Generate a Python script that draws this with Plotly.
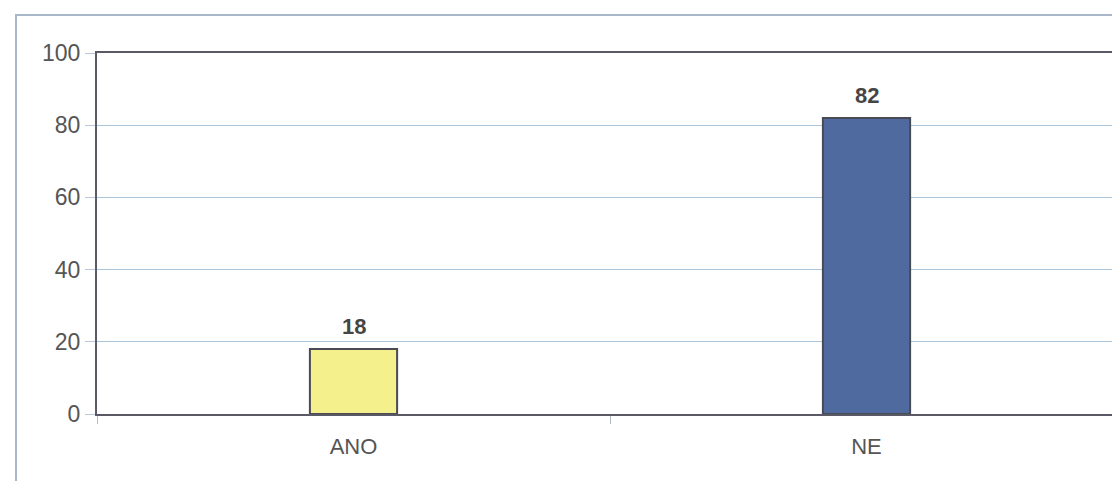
import plotly.graph_objects as go

# Survey answers (percent)
categories = ["ANO", "NE"]
values = [18, 82]
bar_colors = ["#f4f08c", "#4f6a9e"]
y_ticks = [0, 20, 40, 60, 80, 100]

W, H = 1112, 481
L, R, T, B = 97, 0, 53, 67
plot_w = W - L - R
plot_h = H - T - B
band = 513  # pixel width of one category slot

fig = go.Figure(
    go.Bar(
        x=categories,
        y=values,
        width=0.17,
        marker=dict(color=bar_colors, line=dict(color="#4a4a55", width=2)),
        cliponaxis=False,
    )
)

# value labels above each bar
for cat, val in zip(categories, values):
    fig.add_annotation(
        x=cat, y=val, text=f"<b>{val}</b>", showarrow=False,
        yanchor="bottom", yshift=8,
        font=dict(family="Liberation Sans, Arial", size=22, color="#454545"),
    )

# outer chart frame, placed in paper coordinates relative to the plot area
fx0 = (16 - L) / plot_w
fy1 = 1 + (T - 15) / plot_h
fig.add_shape(
    type="rect", xref="paper", yref="paper",
    x0=fx0, x1=1.2, y0=-0.5, y1=fy1,
    line=dict(color="#aab6ca", width=2), fillcolor="rgba(0,0,0,0)", layer="below",
)

fig.update_layout(
    width=W, height=H,
    margin=dict(l=L, r=R, t=T, b=B),
    paper_bgcolor="white",
    plot_bgcolor="white",
    showlegend=False,
    font=dict(family="Liberation Sans, Arial", size=22, color="#555555"),
    xaxis=dict(
        type="category",
        range=[-0.5, -0.5 + plot_w / band],
        showline=True, linecolor="#5a5a66", linewidth=2, mirror=True,
        tickson="boundaries", ticks="outside", ticklen=8, tickcolor="#b0bcc8",
        showgrid=False,
        ticklabelstandoff=12,
        tickfont=dict(size=22, color="#555555"),
    ),
    yaxis=dict(
        range=[0, 100],
        tickvals=y_ticks,
        showline=True, linecolor="#5a5a66", linewidth=2,
        ticks="outside", ticklen=10, tickcolor="#b8c8d8",
        showgrid=True, gridcolor="#a9c6dc", gridwidth=1,
        zeroline=False,
        tickfont=dict(size=23, color="#555555"),
    ),
)

fig.write_html("out.html")
